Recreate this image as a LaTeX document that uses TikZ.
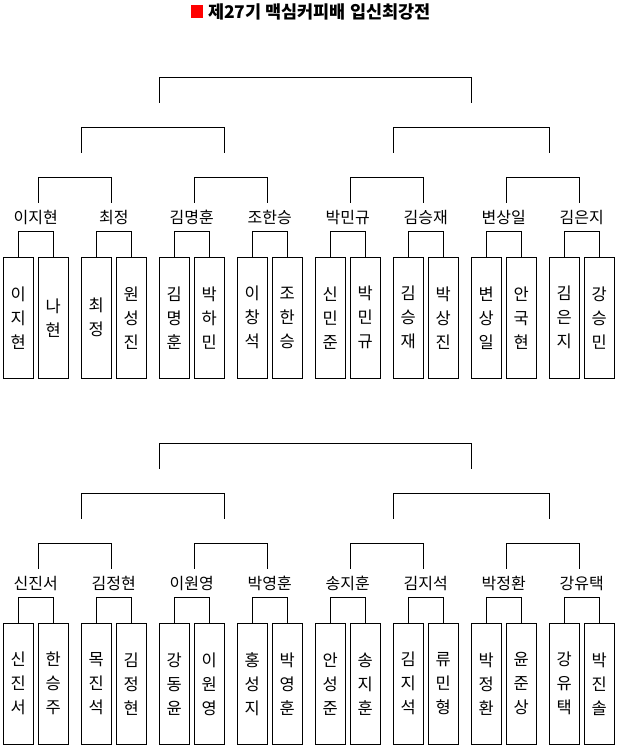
\documentclass[tikz,border=0pt]{standalone}
\usepackage{fontspec}
\newfontfamily\kr{Noto Sans CJK KR}
\begin{document}
\begin{tikzpicture}[x=1pt,y=-1pt,
  every path/.style={line width=1pt},
  pbox/.style={draw,line width=1pt,minimum width=30pt,minimum height=121pt,inner sep=0pt,align=center,
    font=\kr\fontsize{16.5}{24}\selectfont},
  lbl/.style={inner sep=0pt,font=\kr\fontsize{16}{18}\selectfont},
  conn/.style={draw=black,line width=1pt}]
\fill[white] (0,0) rectangle (622,750);
\useasboundingbox (0,0) rectangle (622,750);
% #1 prefix, #2 group, #3 y offset, #4 label, #5 name1, #6 name2, #7 x-shift of upper joint
\newcommand\bpair[7]{%
  \pgfmathsetmacro\xa{18.3+78*#2}%
  \pgfmathsetmacro\xm{35.8+78*#2}%
  \pgfmathsetmacro\xu{35.8+78*#2+#7}%
  \node[pbox] (#1#2a) at (\xa,317.8+#3) {#5};
  \node[pbox] (#1#2b) at (\xa+35,317.8+#3) {#6};
  \node[lbl] (#1#2l) at (\xm,217.3+#3) {#4};
  \draw[conn] (#1#2a.north) -- ++(0,-25) -| (#1#2b.north);
  \coordinate (#1#2u) at (\xu,202.7+#3);
}
% title
\node[fill=red,inner sep=0pt,minimum width=12pt,minimum height=13.5pt] (sq) at (196.5,11.7) {};
\node[anchor=west,inner sep=0pt,font=\kr\bfseries\fontsize{17.5}{20}\selectfont] (title) at (207.5,12) {제27기 맥심커피배 입신최강전};
% top bracket
\bpair{t}{0}{0}{이지현}{이\\지\\현}{나\\현}{2.5}
\bpair{t}{1}{0}{최정}{최\\정}{원\\성\\진}{-2.5}
\bpair{t}{2}{0}{김명훈}{김\\명\\훈}{박\\하\\민}{2.5}
\bpair{t}{3}{0}{조한승}{이\\창\\석}{조\\한\\승}{-2.5}
\bpair{t}{4}{0}{박민규}{신\\민\\준}{박\\민\\규}{2.5}
\bpair{t}{5}{0}{김승재}{김\\승\\재}{박\\상\\진}{-2.5}
\bpair{t}{6}{0}{변상일}{변\\상\\일}{안\\국\\현}{2.5}
\bpair{t}{7}{0}{김은지}{김\\은\\지}{강\\승\\민}{-2.5}
% bottom bracket
\bpair{b}{0}{366}{신진서}{신\\진\\서}{한\\승\\주}{2.5}
\bpair{b}{1}{366}{김정현}{목\\진\\석}{김\\정\\현}{-2.5}
\bpair{b}{2}{366}{이원영}{강\\동\\윤}{이\\원\\영}{2.5}
\bpair{b}{3}{366}{박영훈}{홍\\성\\지}{박\\영\\훈}{-2.5}
\bpair{b}{4}{366}{송지훈}{안\\성\\준}{송\\지\\훈}{2.5}
\bpair{b}{5}{366}{김지석}{김\\지\\석}{류\\민\\형}{-2.5}
\bpair{b}{6}{366}{박정환}{박\\정\\환}{윤\\준\\상}{2.5}
\bpair{b}{7}{366}{강유택}{강\\유\\택}{박\\진\\솔}{-2.5}
% upper levels
\foreach \p/\o in {t/0,b/366}{
  \coordinate (\p q0) at (81.3,152.7+\o);
  \coordinate (\p q1) at (224.3,152.7+\o);
  \coordinate (\p q2) at (393.3,152.7+\o);
  \coordinate (\p q3) at (549.3,152.7+\o);
  \coordinate (\p f0) at (159.3,102.7+\o);
  \coordinate (\p f1) at (471.3,102.7+\o);
  \draw[conn] (\p0u) -- ++(0,-25.4) -| (\p1u);
  \draw[conn] (\p2u) -- ++(0,-25.4) -| (\p3u);
  \draw[conn] (\p4u) -- ++(0,-25.4) -| (\p5u);
  \draw[conn] (\p6u) -- ++(0,-25.4) -| (\p7u);
  \draw[conn] (\p q0) -- ++(0,-25.4) -| (\p q1);
  \draw[conn] (\p q2) -- ++(0,-25.4) -| (\p q3);
  \draw[conn] (\p f0) -- ++(0,-25.7) -| (\p f1);
}
\end{tikzpicture}
\end{document}
